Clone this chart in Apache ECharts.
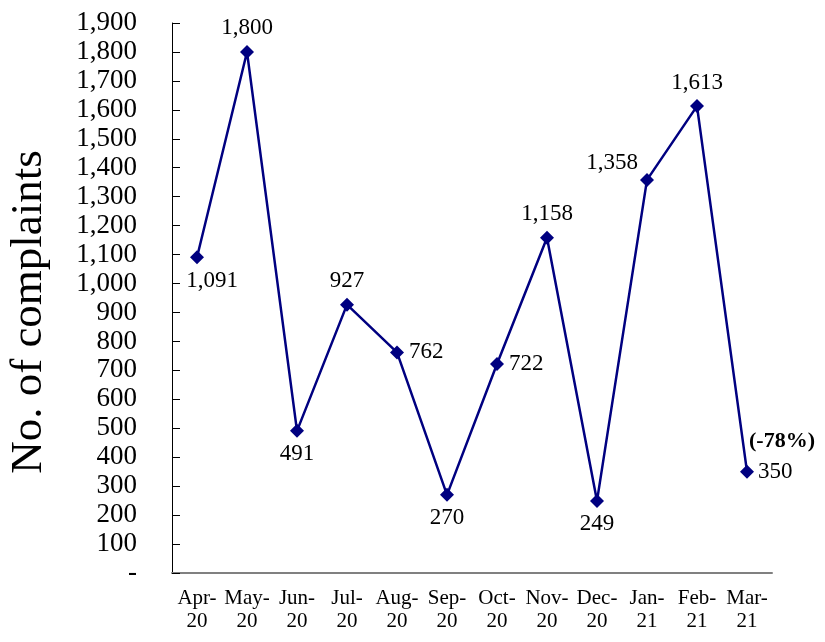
<!DOCTYPE html>
<html>
<head>
<meta charset="utf-8">
<script src="https://cdn.jsdelivr.net/npm/echarts@6/dist/echarts.min.js"></script>
<style>
html,body{margin:0;padding:0;background:#fff;}
#chart{width:825px;height:642px;}
</style>
</head>
<body>
<div id="chart"></div>
<script>
const categories = ['Apr-\n20','May-\n20','Jun-\n20','Jul-\n20','Aug-\n20','Sep-\n20','Oct-\n20','Nov-\n20','Dec-\n20','Jan-\n21','Feb-\n21','Mar-\n21'];
const complaints = [1091, 1800, 491, 927, 762, 270, 722, 1158, 249, 1358, 1613, 350];
const labelPositions = ['bottom','top','bottom','top','right','bottom','right','top','bottom','left','top','right'];
const changeNote = '(-78%)';

const FONT = '"Liberation Serif", "Times New Roman", serif';
const fmt = v => v.toLocaleString('en-US');

const data = complaints.map((v, i) => {
  const pos = labelPositions[i];
  const item = { value: v, label: { position: pos } };
  if (i === 0) item.label.offset = [15, 0];
  if (i === 9) item.label.offset = [3, -17];
  if (i === complaints.length - 1) {
    item.label = {
      position: 'right',
      offset: [-10, -15],
      formatter: p => '{b|' + changeNote + '}\n{a|' + fmt(p.value) + '}',
      rich: {
        a: { fontFamily: FONT, fontSize: 23, color: '#000', lineHeight: 30, align: 'left', padding: [0, 0, 0, 9] },
        b: { fontFamily: FONT, fontSize: 22, fontWeight: 'bold', color: '#000', lineHeight: 30, align: 'left' }
      }
    };
  }
  return item;
});

const chart = echarts.init(document.getElementById('chart'));
chart.setOption({
  animation: false,
  backgroundColor: '#fff',
  grid: { left: 172, right: 53, top: 23, bottom: 69, containLabel: false, outerBoundsMode: 'none' },
  xAxis: {
    type: 'category',
    data: categories,
    boundaryGap: true,
    axisLine: { lineStyle: { color: '#808080', width: 2 } },
    axisTick: { inside: true, length: 7, lineStyle: { color: '#555', width: 1 } },
    axisLabel: { fontFamily: FONT, fontSize: 21, color: '#000', lineHeight: 23, margin: 14, interval: 0 }
  },
  yAxis: {
    type: 'value',
    min: 0, max: 1900, interval: 100,
    name: 'No. of complaints',
    nameLocation: 'middle',
    nameGap: 120,
    nameRotate: 90,
    nameTextStyle: { fontFamily: FONT, fontSize: 45, color: '#000', padding: [0, 0, 0, -28] },
    axisLine: { show: true, lineStyle: { color: '#000', width: 1 } },
    axisTick: { show: true, inside: true, length: 8, lineStyle: { color: '#000' } },
    splitLine: { show: false },
    axisLabel: {
      fontFamily: FONT, fontSize: 27, color: '#000', margin: 35,
      formatter: v => v === 0 ? '-' : fmt(v)
    }
  },
  series: [{
    type: 'line',
    data: data,
    symbol: 'diamond',
    symbolSize: 14,
    lineStyle: { color: '#000080', width: 2.5 },
    itemStyle: { color: '#000080' },
    label: {
      show: true,
      fontFamily: FONT, fontSize: 23, color: '#000',
      distance: 5,
      formatter: p => fmt(p.value)
    }
  }]
});
</script>
</body>
</html>
